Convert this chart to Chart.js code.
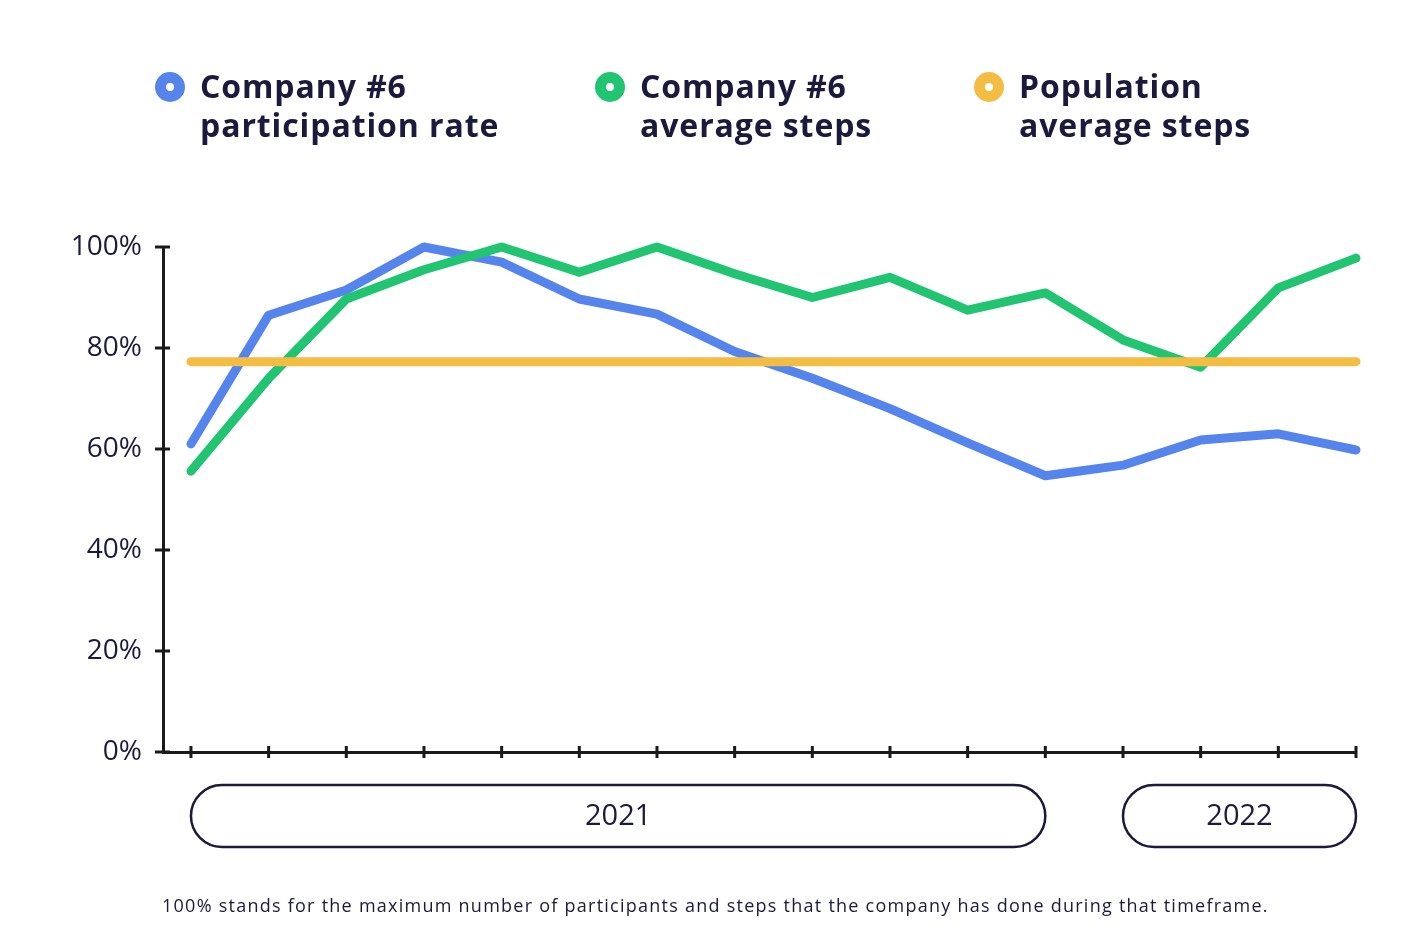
<!DOCTYPE html>
<html>
<head>
<meta charset="utf-8">
<script src="https://cdn.jsdelivr.net/npm/chart.js@4/dist/chart.umd.min.js"></script>
<style>
  html, body { margin: 0; padding: 0; background: #fff; }
  #wrap { position: relative; width: 1414px; height: 943px; font-family: "Open Sans", sans-serif; color: #1b1a3d; }
  #chart { position: absolute; left: 0; top: 0; }
  .legend { position: absolute; top: 66px; display: flex; align-items: flex-start; font-weight: 700; font-size: 32px; line-height: 39px; letter-spacing: 0.9px; }
  .legend .dot { width: 8px; height: 8px; border-radius: 50%; border: 11px solid; margin-right: 15px; margin-top: 6px; flex: none; }
  .note { position: absolute; left: 162px; top: 893px; font-size: 18px; letter-spacing: 1.25px; white-space: nowrap; }
</style>
</head>
<body>
<div id="wrap">
  <canvas id="chart" width="1414" height="943"></canvas>
  <div class="legend" style="left:155px"><span class="dot" style="border-color:#5585ec"></span><span>Company #6<br>participation rate</span></div>
  <div class="legend" style="left:595px"><span class="dot" style="border-color:#20c471"></span><span>Company #6<br>average steps</span></div>
  <div class="legend" style="left:974px"><span class="dot" style="border-color:#f2bd42"></span><span>Population<br>average steps</span></div>
  <div class="note">100% stands for the maximum number of participants and steps that the company has done during that timeframe.</div>
</div>
<script>
// one point per period, 12 in 2021 and 4 in 2022
const periods = [0, 1, 2, 3, 4, 5, 6, 7, 8, 9, 10, 11, 12, 13, 14, 15];
const participation = [61, 86.5, 91.5, 100, 97, 89.7, 86.7, 79.3, 74, 68, 61.2, 54.7, 56.8, 61.8, 63, 59.8];
const companySteps = [55.6, 74, 89.7, 95.5, 100, 95, 100, 94.7, 90, 94, 87.5, 90.9, 81.6, 76.2, 91.9, 97.8];
const populationSteps = periods.map(() => 77.3);
const yTicks = [0, 20, 40, 60, 80, 100];
const years = [
  { label: "2021", from: 0, to: 11 },
  { label: "2022", from: 12, to: 15 }
];

const navy = "#1b1a3d";
const axisColor = "#1a1a1a";

// tick marks crossing the axes + year pills under the x axis
const decorations = {
  id: "decorations",
  afterDraw(chart) {
    const ctx = chart.ctx;
    const x = chart.scales.x, y = chart.scales.y;
    const axisY = y.getPixelForValue(0);
    const axisX = chart.chartArea.left;
    ctx.save();
    ctx.strokeStyle = axisColor;
    ctx.lineWidth = 3;
    ctx.beginPath();
    periods.forEach(p => {
      const px = x.getPixelForValue(p);
      ctx.moveTo(px, axisY - 6);
      ctx.lineTo(px, axisY + 6);
    });
    yTicks.forEach(t => {
      const py = y.getPixelForValue(t);
      ctx.moveTo(axisX - 8, py);
      ctx.lineTo(axisX + 7, py);
    });
    ctx.stroke();

    ctx.strokeStyle = navy;
    ctx.lineWidth = 2.5;
    ctx.fillStyle = navy;
    ctx.font = "29px 'Open Sans'";
    ctx.textAlign = "center";
    ctx.textBaseline = "middle";
    const top = axisY + 33, h = 62, r = h / 2;
    years.forEach(yr => {
      const x1 = x.getPixelForValue(yr.from), x2 = x.getPixelForValue(yr.to);
      ctx.beginPath();
      ctx.moveTo(x1 + r, top);
      ctx.lineTo(x2 - r, top);
      ctx.arc(x2 - r, top + r, r, -Math.PI / 2, Math.PI / 2);
      ctx.lineTo(x1 + r, top + h);
      ctx.arc(x1 + r, top + r, r, Math.PI / 2, Math.PI * 1.5);
      ctx.closePath();
      ctx.stroke();
      ctx.fillText(yr.label, (x1 + x2) / 2, top + r + 1);
    });
    ctx.restore();
  }
};

function lineSet(label, data, color) {
  return {
    label, data, borderColor: color, backgroundColor: color,
    borderWidth: 9, pointRadius: 0, tension: 0,
    borderCapStyle: "round", borderJoinStyle: "round", clip: false
  };
}

new Chart(document.getElementById("chart"), {
  type: "line",
  data: {
    labels: periods,
    datasets: [
      lineSet("Population average steps", populationSteps, "#f2bd42"),
      lineSet("Company #6 average steps", companySteps, "#20c471"),
      lineSet("Company #6 participation rate", participation, "#5585ec")
    ]
  },
  options: {
    responsive: false,
    animation: false,
    layout: { padding: { left: 40, right: 58, top: 247, bottom: 171 } },
    plugins: { legend: { display: false }, tooltip: { enabled: false } },
    scales: {
      x: {
        type: "linear",
        min: -0.36, max: 15,
        afterBuildTicks(scale) { scale.ticks = periods.map(v => ({ value: v })); },
        afterFit(scale) { scale.height = 20; },
        grid: { display: false },
        border: { display: true, color: axisColor, width: 3 },
        ticks: { display: false }
      },
      y: {
        min: 0, max: 100,
        afterBuildTicks(scale) { scale.ticks = yTicks.map(v => ({ value: v })); },
        afterFit(scale) { scale.width = 123; },
        grid: { display: false },
        border: { display: true, color: axisColor, width: 3 },
        ticks: {
          padding: 13,
          color: navy,
          font: { family: "'Open Sans'", size: 28 },
          callback: v => v + "%"
        }
      }
    }
  },
  plugins: [decorations]
});
</script>
</body>
</html>
